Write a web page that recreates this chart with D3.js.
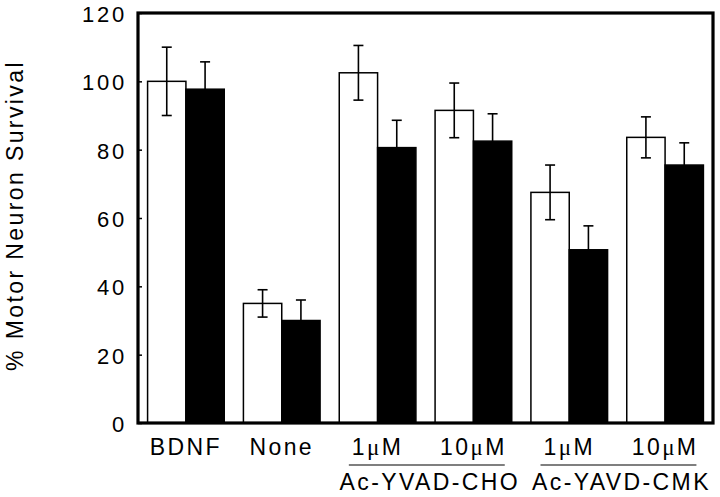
<!DOCTYPE html>
<html>
<head>
<meta charset="utf-8">
<script src="https://cdn.jsdelivr.net/npm/d3@7"></script>
<style>
  html, body { margin: 0; padding: 0; background: #fff; }
  svg { display: block; }
  text { font-family: "Liberation Sans", Arial, Helvetica, sans-serif; font-weight: normal; fill: #000; }
</style>
</head>
<body>
<svg id="chart" width="720" height="497"></svg>
<script>
// ---- data ----
const categories = ["BDNF", "None", "1μM", "10μM", "1μM", "10μM"];
const seriesNames = ["white", "black"];
const whiteValues = [100, 35, 102.5, 91.5, 67.5, 83.6];
const whiteErrors = [10, 4, 8, 8, 8, 6];
const blackValues = [97.7, 30, 80.6, 82.5, 50.7, 75.5];
const blackErrors = [8, 6, 8, 8, 7, 6.5];
const groupLabels = ["Ac-YVAD-CHO", "Ac-YAVD-CMK"];
const groupFrom = [2, 4];
const groupTo = [3, 5];
const yTicks = [0, 20, 40, 60, 80, 100, 120];
const yLabel = "% Motor Neuron Survival";

// ---- layout ----
const svg = d3.select("#chart");
const plotLeft = 138, plotRight = 713, plotTop = 13, plotBottom = 423;
const labelSize = "23px", tickSize = "22px";
const labelSpacing = "2.4px", tickSpacing = "2.8px";

const x0 = d3.scaleBand().domain(d3.range(categories.length))
  .range([plotLeft, plotRight]).paddingInner(0.2).paddingOuter(0.1);
const x1 = d3.scaleBand().domain(seriesNames).range([0, x0.bandwidth()]);
const y = d3.scaleLinear().domain([0, 120]).range([plotBottom, plotTop]);

const rows = [];
categories.forEach((c, i) => {
  rows.push({i, s: "white", v: whiteValues[i], e: whiteErrors[i]});
  rows.push({i, s: "black", v: blackValues[i], e: blackErrors[i]});
});

// bars
svg.append("g").selectAll("rect").data(rows).join("rect")
  .attr("x", d => x0(d.i) + x1(d.s))
  .attr("y", d => y(d.v))
  .attr("width", x1.bandwidth())
  .attr("height", d => y(0) - y(d.v))
  .attr("fill", d => d.s === "white" ? "#fff" : "#000")
  .attr("stroke", "#000")
  .attr("stroke-width", 1.5);

// error bars
const eg = svg.append("g").attr("stroke", "#000").attr("stroke-width", 1.6);
rows.forEach(d => {
  const cx = x0(d.i) + x1(d.s) + x1.bandwidth() / 2;
  eg.append("line").attr("x1", cx).attr("x2", cx).attr("y1", y(d.v + d.e)).attr("y2", y(d.v - d.e));
  eg.append("line").attr("x1", cx - 5).attr("x2", cx + 5).attr("y1", y(d.v + d.e)).attr("y2", y(d.v + d.e));
  eg.append("line").attr("x1", cx - 5).attr("x2", cx + 5).attr("y1", y(d.v - d.e)).attr("y2", y(d.v - d.e));
});

// frame
svg.append("rect").attr("x", plotLeft).attr("y", plotTop)
  .attr("width", plotRight - plotLeft).attr("height", plotBottom - plotTop)
  .attr("fill", "none").attr("stroke", "#000").attr("stroke-width", 3.2);

// y axis ticks (inward)
const yAxis = d3.axisRight(y).tickValues(yTicks).tickSize(4).tickFormat("");
const ya = svg.append("g").attr("transform", `translate(${plotLeft},0)`).call(yAxis);
ya.select(".domain").remove();
ya.selectAll("line").attr("stroke", "#000").attr("stroke-width", 1.5);

// y label
svg.append("text")
  .attr("text-anchor", "middle")
  .attr("transform", "translate(22.5,215.5) rotate(-90)")
  .style("font-size", labelSize)
  .style("letter-spacing", labelSpacing)
  .text(yLabel);

// y tick labels
svg.append("g").selectAll("text").data(yTicks).join("text")
  .attr("x", plotLeft - 11)
  .attr("y", d => y(d) + 9)
  .attr("text-anchor", "end")
  .style("font-size", tickSize)
  .style("letter-spacing", tickSpacing)
  .text(d => d);

// category labels
const catNodes = [];
categories.forEach((c, i) => {
  const t = svg.append("text")
    .attr("x", x0(i) + x0.bandwidth() / 2)
    .attr("y", 455)
    .attr("text-anchor", "middle")
    .style("font-size", labelSize)
    .style("letter-spacing", labelSpacing);
  const parts = c.split("μ");
  t.append("tspan").text(parts[0]);
  if (parts.length > 1) {
    t.append("tspan").style("font-family", "'Liberation Serif', 'Times New Roman', serif").text("μ");
    t.append("tspan").text(parts[1]);
  }
  catNodes.push(t.node());
});

// group underlines and labels
groupLabels.forEach((g, k) => {
  const b1 = catNodes[groupFrom[k]].getBBox();
  const b2 = catNodes[groupTo[k]].getBBox();
  const xa = b1.x - 3, xb = b2.x + b2.width - 2;
  svg.append("line").attr("x1", xa).attr("x2", xb).attr("y1", 465).attr("y2", 465)
    .attr("stroke", "#000").attr("stroke-width", 1.2);
  svg.append("text")
    .attr("x", (xa + xb) / 2 + 3)
    .attr("y", 490)
    .attr("text-anchor", "middle")
    .style("font-size", labelSize)
    .style("letter-spacing", labelSpacing)
    .text(g);
});
</script>
</body>
</html>
